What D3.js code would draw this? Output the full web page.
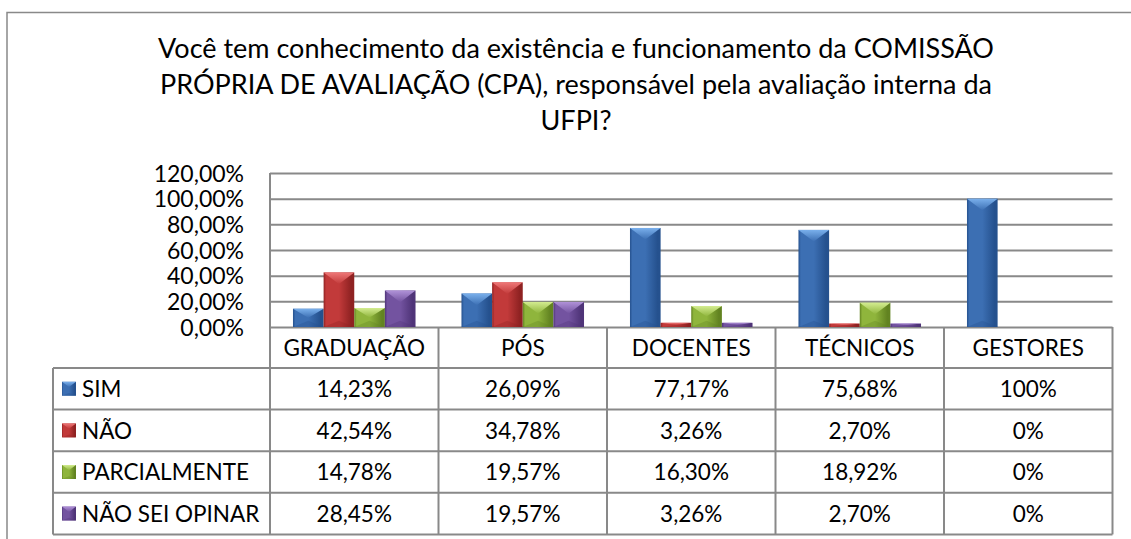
<!DOCTYPE html>
<html><head><meta charset="utf-8">
<script src="https://cdn.jsdelivr.net/npm/d3@7"></script>
<style>
body{margin:0;background:#fff;}
text{font-family:Lato,'Open Sans',sans-serif;fill:#000;}
</style>
</head><body>
<svg id="chart" width="1131" height="539"></svg>
<script>
const categories = ["GRADUAÇÃO", "PÓS", "DOCENTES", "TÉCNICOS", "GESTORES"];
const seriesNames = ["SIM", "NÃO", "PARCIALMENTE", "NÃO SEI OPINAR"];
const simValues = [14.23, 26.09, 77.17, 75.68, 100];
const naoValues = [42.54, 34.78, 3.26, 2.70, 0];
const parcialValues = [14.78, 19.57, 16.30, 18.92, 0];
const naoSeiValues = [28.45, 19.57, 3.26, 2.70, 0];
const yTicks = [0, 20, 40, 60, 80, 100, 120];
const titleLines = [
  "Você tem conhecimento da existência e funcionamento da COMISSÃO",
  "PRÓPRIA DE AVALIAÇÃO (CPA), responsável pela avaliação interna da",
  "UFPI?"
];
const seriesColors = [
  {base:"#3c6fb3", light:"#7ab0ec", dark:"#25518e"},
  {base:"#c23a3a", light:"#ee7878", dark:"#8f2222"},
  {base:"#8fb53c", light:"#d3ec90", dark:"#628321"},
  {base:"#7353a0", light:"#b092d8", dark:"#4f3478"}
];

const series = [simValues, naoValues, parcialValues, naoSeiValues];

const svg = d3.select("#chart");
const gridColor = "#898989";

// outer chart border
svg.append("rect").attr("x", 7).attr("y", 12.5).attr("width", 1140).attr("height", 540)
  .attr("fill", "none").attr("stroke", gridColor).attr("stroke-width", 1.5);

// title
svg.append("g").selectAll("text").data(titleLines).join("text")
  .attr("x", 576).attr("y", (d, i) => 58 + i * 36)
  .attr("text-anchor", "middle").style("font-size", "27px").text(d => d);

const plotLeft = 270, plotRight = 1112.5, plotTop = 173, plotBottom = 327;
const x = d3.scaleBand().domain(categories).range([plotLeft, plotRight]).paddingInner(0).paddingOuter(0);
const xs = d3.scaleBand().domain(d3.range(seriesNames.length))
  .range([0, x.bandwidth()]).paddingInner(0).paddingOuter(0.75);
const y = d3.scaleLinear().domain([0, 120]).range([plotBottom, plotTop]);

const fmtAxis = v => v.toFixed(2).replace(".", ",") + "%";
const fmtTable = v => Number.isInteger(v) ? v + "%" : v.toFixed(2).replace(".", ",") + "%";

// gradients
const defs = svg.append("defs");
seriesColors.forEach((c, i) => {
  const g = defs.append("linearGradient").attr("id", "g" + i).attr("x1", 0).attr("x2", 1).attr("y1", 0).attr("y2", 0);
  g.append("stop").attr("offset", 0).attr("stop-color", c.dark);
  g.append("stop").attr("offset", 0.08).attr("stop-color", c.base);
  g.append("stop").attr("offset", 0.5).attr("stop-color", c.base);
  g.append("stop").attr("offset", 0.9).attr("stop-color", c.dark);
  g.append("stop").attr("offset", 1).attr("stop-color", c.dark);
  const t = defs.append("linearGradient").attr("id", "t" + i).attr("x1", 0).attr("x2", 0).attr("y1", 0).attr("y2", 1);
  t.append("stop").attr("offset", 0).attr("stop-color", c.light);
  t.append("stop").attr("offset", 1).attr("stop-color", c.base);
});

// gridlines
const yAxis = d3.axisLeft(y).tickValues(yTicks).tickSize(-(plotRight - plotLeft)).tickFormat(fmtAxis).tickPadding(26);
const ga = svg.append("g").attr("transform", `translate(${plotLeft},0)`).call(yAxis);
ga.select(".domain").remove();
ga.selectAll(".tick line").attr("stroke", gridColor).attr("stroke-width", 2);
ga.selectAll(".tick text").style("font-size", "23px").attr("dy", "0.36em").attr("fill", "#000");
// left axis line
svg.append("line").attr("x1", plotLeft).attr("x2", plotLeft).attr("y1", plotTop).attr("y2", plotBottom)
  .attr("stroke", gridColor).attr("stroke-width", 2);

// bars
function drawBar(g, bx, by, w, h, i) {
  if (h <= 0) return;
  g.append("rect").attr("x", bx).attr("y", by).attr("width", w).attr("height", h).attr("fill", `url(#g${i})`);
  const d = Math.min(w * 0.38, h / 2);
  g.append("path").attr("d", `M${bx},${by}L${bx + w},${by}L${bx + w / 2},${by + d}Z`).attr("fill", `url(#t${i})`);
  const db = Math.min(w * 0.2, h / 2);
  g.append("path").attr("d", `M${bx},${by + h}L${bx + w},${by + h}L${bx + w / 2},${by + h - db}Z`).attr("fill", seriesColors[i].dark).attr("opacity", 0.35);
}
const barsG = svg.append("g");
series.forEach((vals, si) => {
  vals.forEach((v, ci) => {
    const bx = x(categories[ci]) + xs(si);
    const by = y(v);
    drawBar(barsG, bx, by, xs.bandwidth(), plotBottom - by, si);
  });
});

// data table
const rowTop = 327, headerH = 41, rowH = 41.6, tableLeft = 53;
const rowsY = d3.range(seriesNames.length + 1).map(i => rowTop + headerH + i * rowH);
const tg = svg.append("g");
const vx = [plotLeft].concat(categories.map(c => x(c) + x.bandwidth()));
vx.forEach(vxi => tg.append("line").attr("x1", vxi).attr("x2", vxi).attr("y1", rowTop).attr("y2", rowsY[rowsY.length - 1])
  .attr("stroke", gridColor).attr("stroke-width", 2));
tg.append("line").attr("x1", tableLeft).attr("x2", tableLeft).attr("y1", rowsY[0]).attr("y2", rowsY[rowsY.length - 1])
  .attr("stroke", gridColor).attr("stroke-width", 2);
rowsY.forEach(ry => tg.append("line").attr("x1", tableLeft).attr("x2", plotRight).attr("y1", ry).attr("y2", ry)
  .attr("stroke", gridColor).attr("stroke-width", 2));
tg.selectAll(".hdr").data(categories).join("text").attr("class", "hdr")
  .attr("x", d => x(d) + x.bandwidth() / 2).attr("y", rowTop + headerH / 2).attr("dy", "0.36em")
  .attr("text-anchor", "middle").style("font-size", "22.5px").text(d => d);
seriesNames.forEach((name, si) => {
  const cy = rowsY[si] + rowH / 2;
  const sw = 14;
  drawBar(tg, 62, cy - sw / 2, sw, sw, si);
  tg.append("text").attr("x", 82).attr("y", cy).attr("dy", "0.36em").style("font-size", "22.5px").text(name);
  series[si].forEach((v, ci) => {
    tg.append("text").attr("x", x(categories[ci]) + x.bandwidth() / 2).attr("y", cy).attr("dy", "0.36em")
      .attr("text-anchor", "middle").style("font-size", "22.5px").text(fmtTable(v));
  });
});
</script>
</body></html>
